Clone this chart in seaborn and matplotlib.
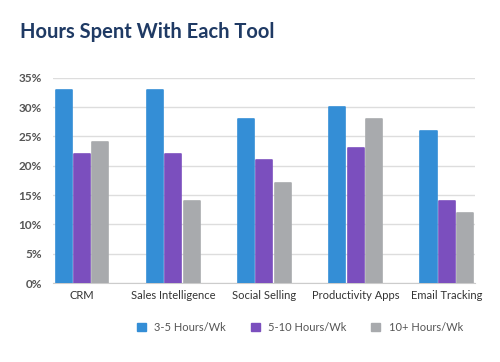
import pandas as pd
import matplotlib.pyplot as plt
import seaborn as sns

# values (% of respondents)
tools = ['CRM', 'Sales Intelligence', 'Social Selling', 'Productivity Apps', 'Email Tracking']
hours_3_5 = [33, 33, 28, 30, 26]
hours_5_10 = [22, 22, 21, 23, 14]
hours_10_plus = [24, 14, 17, 28, 12]
series = ['3-5 Hours/Wk', '5-10 Hours/Wk', '10+ Hours/Wk']
colors = ['#348ED6', '#7B4FBE', '#A8AAAD']

data = pd.DataFrame({
    'Tool': tools * 3,
    'Hours': [s for s in series for _ in tools],
    'Share': hours_3_5 + hours_5_10 + hours_10_plus,
})

sns.set_style('white')
plt.rcParams['font.family'] = ['Lato', 'DejaVu Sans']

fig = plt.figure(figsize=(5, 3.62), dpi=100)
ax = fig.add_axes([0.106, 0.218, 0.844, 0.567])

sns.barplot(data=data, x='Tool', y='Share', hue='Hours', palette=colors,
            saturation=1, width=0.6, gap=0.12, ax=ax, legend=False, zorder=3)
for bar in ax.patches:
    bar.set_edgecolor(bar.get_facecolor())
    bar.set_linewidth(1.2)
    bar.set_joinstyle('round')

ax.set_ylim(0, 35)
ax.set_xlim(-0.32, 4.31)
ax.set_yticks(range(0, 36, 5))
ax.set_yticklabels([f'{v}%' for v in range(0, 36, 5)])
ax.yaxis.grid(True, color='#DDDDDD', linewidth=1, zorder=0)
ax.set_xlabel('')
ax.set_ylabel('')
for side in ['left', 'right', 'top']:
    ax.spines[side].set_visible(False)
ax.spines['bottom'].set_color('#CCCCCC')
ax.tick_params(axis='y', length=0, labelsize=8.5, labelcolor='#555555', pad=8)
ax.tick_params(axis='x', length=0, labelsize=8, labelcolor='#333333', pad=5)
for lbl in ax.get_yticklabels():
    lbl.set_fontweight('bold')

fig.text(0.04, 0.895, 'Hours Spent With Each Tool', fontsize=14.5,
         fontweight='bold', color='#1F3A64')

handles = [plt.Rectangle((0, 0), 1, 1, color=c) for c in colors]
fig.legend(handles, series, loc='center', bbox_to_anchor=(0.6, 0.095), ncol=3,
           frameon=False, fontsize=8, handlelength=0.8, handleheight=0.8,
           columnspacing=2.2, labelcolor='#555555')

fig.savefig('out.png', dpi=100)
